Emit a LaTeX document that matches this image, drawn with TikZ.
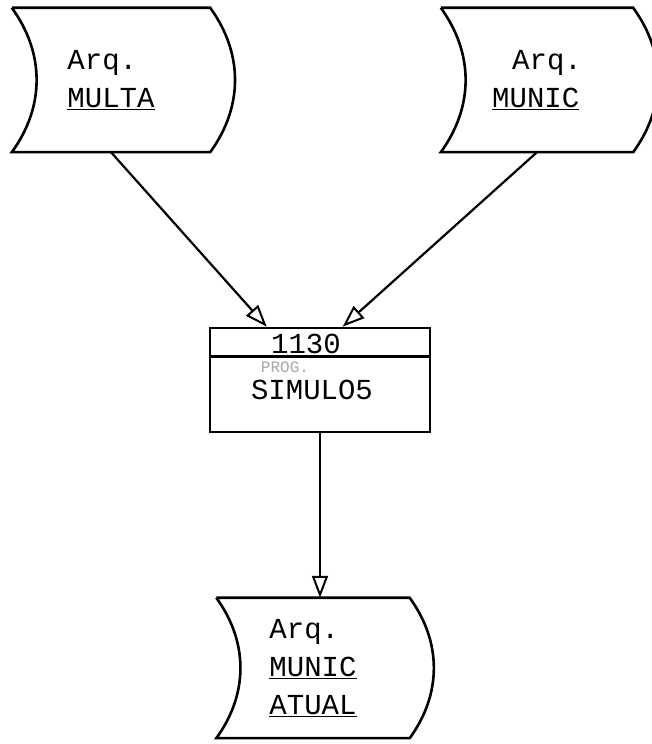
\documentclass[tikz,border=0pt]{standalone}
\usepackage{fontspec}
\setmonofont{Liberation Mono}
\usetikzlibrary{arrows.meta}
\tikzset{
  lw/.style={line width=2.6pt},
  filebox/.style={draw=none, minimum width=#1, inner sep=0pt, font=\ttfamily\fontsize{29}{38}\selectfont, align=left},
  conn/.style={line width=2.2pt, -{Triangle[open, length=22pt, width=16pt, line width=2pt]}},
  lbl/.style={font=\ttfamily\fontsize{29}{32}\selectfont, inner sep=0pt}
}
\newcommand\filesh[1]{\draw[lw] (#1.north west) -- (#1.north east) to[bend left=36] (#1.south east) -- (#1.south west) to[bend right=36] (#1.north west);}
\begin{document}
\begin{tikzpicture}[x=1pt,y=1pt]
\useasboundingbox (0,0) rectangle (651,744);
% top-left file
\node[filebox=198pt, minimum height=144pt] (multa) at (111,664) {Arq.\\\underline{MULTA}};
\filesh{multa}
% top-right file
\node[filebox=192pt, minimum height=144pt] (munic) at (537,664) {\hspace*{20pt}Arq.\\\underline{MUNIC}};
\filesh{munic}
% process box
\node[draw, lw, minimum width=220pt, minimum height=104pt, inner sep=0pt] (sim) at (320,364) {};
\coordinate (dl) at ([yshift=-30pt]sim.north west);
\coordinate (dr) at ([yshift=-30pt]sim.north east);
\draw[lw] (dl) -- (dr);
\node[lbl] (num) at (306,400) {1130};
\node[font=\ttfamily\fontsize{16}{16}\selectfont, text=black!35, inner sep=0pt] (prog) at (285,377) {PROG.};
\node[lbl] (name) at (312,354) {SIMULO5};
% bottom file
\node[filebox=193pt, minimum height=140pt] (atual) at (313,76) {Arq.\\\underline{MUNIC}\\\underline{ATUAL}};
\filesh{atual}
% connectors
\draw[conn] (multa.south) -- ([xshift=58pt]sim.north west);
\draw[conn] (munic.south) -- ([xshift=134pt]sim.north west);
\draw[conn] (sim.south) -- (sim.south |- atual.north);
\end{tikzpicture}
\end{document}
